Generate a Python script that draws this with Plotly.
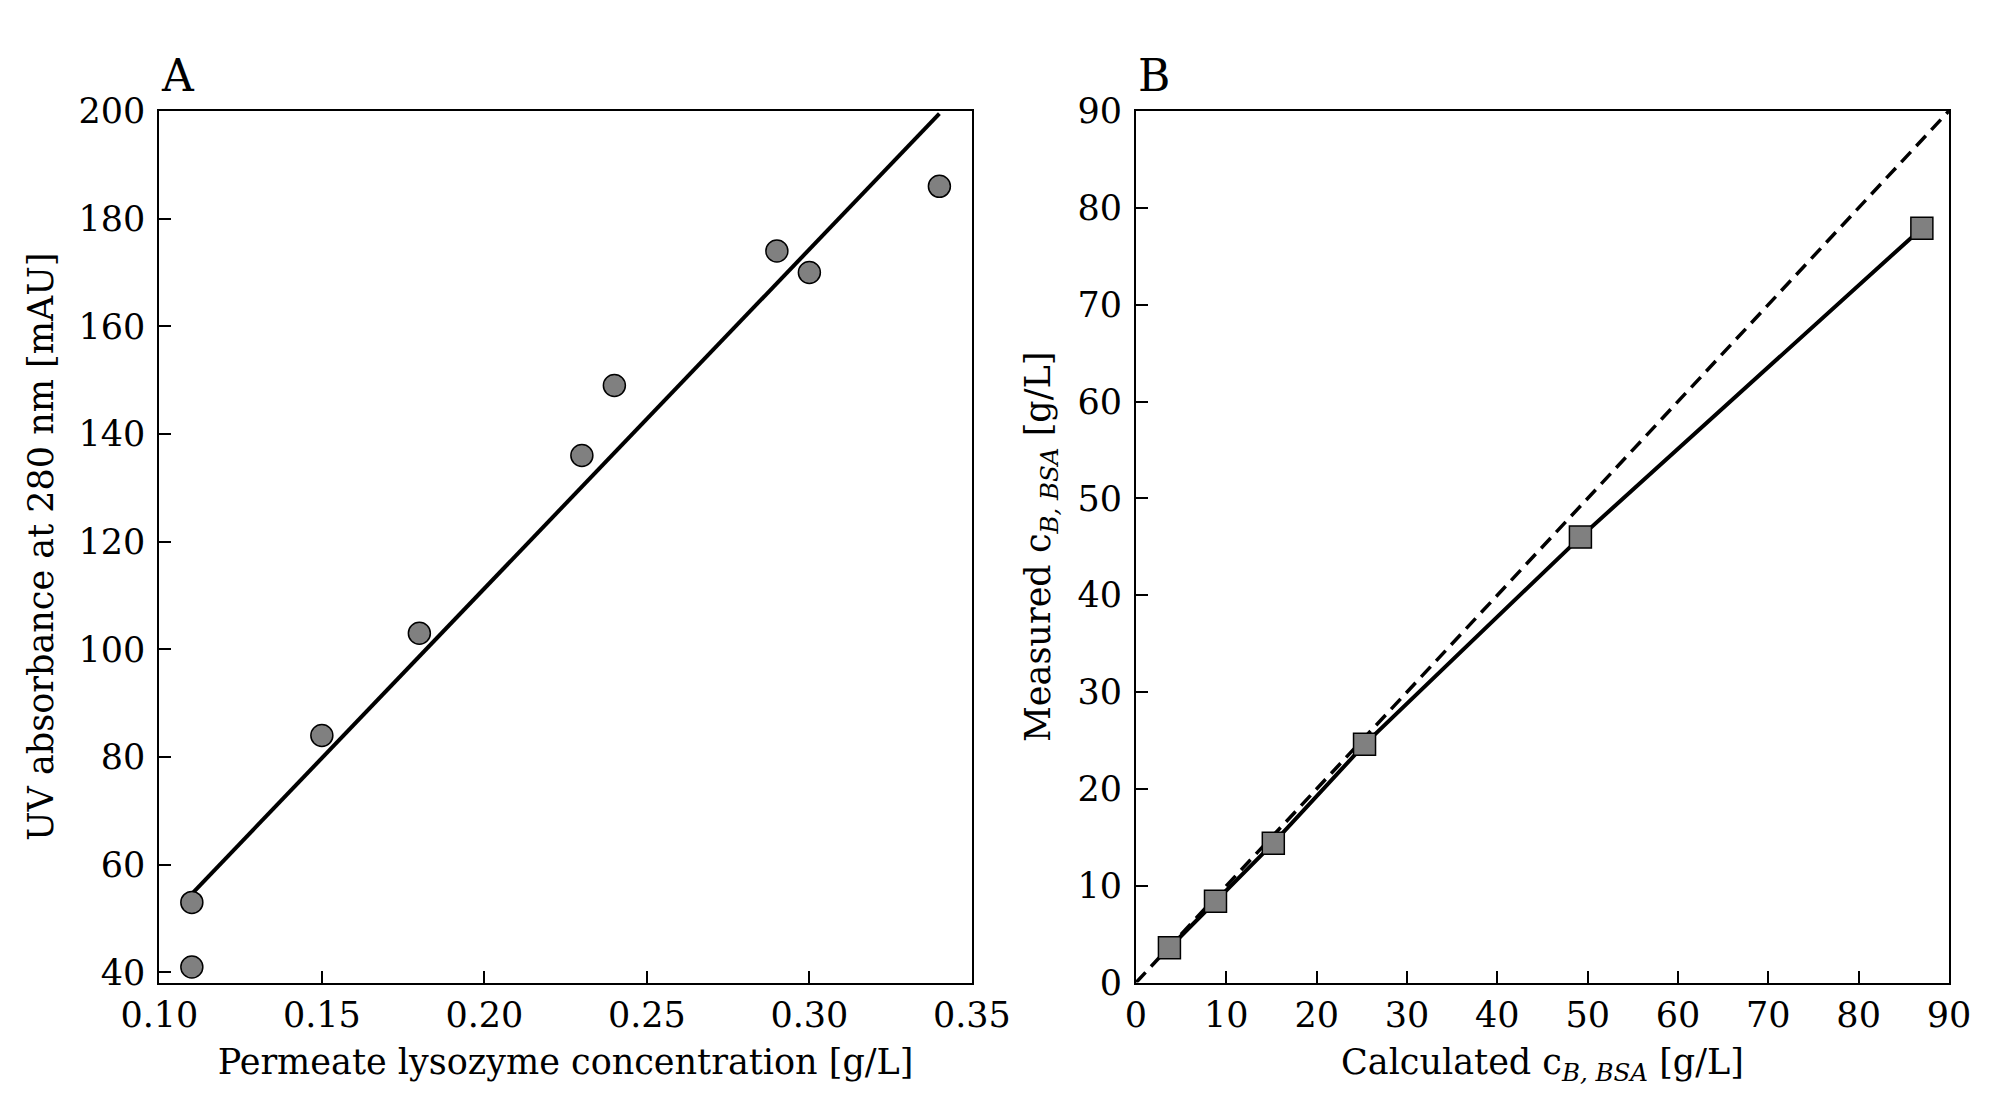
import plotly.graph_objects as go

# Panel A data
a_x = [0.11, 0.11, 0.15, 0.18, 0.23, 0.24, 0.29, 0.30, 0.34]
a_y = [53, 41, 84, 103, 136, 149, 174, 170, 186]
a_fit_x = [0.11, 0.34]
a_fit_y = [54.6, 199.5]

# Panel B data
b_x = [3.7, 8.8, 15.2, 25.3, 49.2, 87.0]
b_y = [3.6, 8.4, 14.4, 24.6, 46.0, 77.9]
b_id_x = [0, 90]
b_id_y = [0, 90]

a_xticks = [0.10, 0.15, 0.20, 0.25, 0.30, 0.35]
a_yticks = [40, 60, 80, 100, 120, 140, 160, 180, 200]
b_ticks = [0, 10, 20, 30, 40, 50, 60, 70, 80, 90]

FONT = "DejaVu Serif"
FS = 35
GRAY = "#808080"

fig = go.Figure()

fig.add_trace(go.Scatter(x=a_fit_x, y=a_fit_y, mode="lines",
                         line=dict(color="black", width=4),
                         xaxis="x", yaxis="y", showlegend=False))
fig.add_trace(go.Scatter(x=a_x, y=a_y, mode="markers",
                         marker=dict(symbol="circle", size=22, color=GRAY,
                                     line=dict(color="black", width=1.5)),
                         xaxis="x", yaxis="y", showlegend=False))

fig.add_trace(go.Scatter(x=b_id_x, y=b_id_y, mode="lines",
                         line=dict(color="black", width=3.5, dash="14px,8px"),
                         xaxis="x2", yaxis="y2", showlegend=False))
fig.add_trace(go.Scatter(x=b_x, y=b_y, mode="lines+markers",
                         line=dict(color="black", width=4),
                         marker=dict(symbol="square", size=22, color=GRAY,
                                     line=dict(color="black", width=1.5)),
                         xaxis="x2", yaxis="y2", showlegend=False))

axis_common = dict(showline=True, linecolor="black", linewidth=2, mirror=True,
                   ticks="inside", ticklen=12, tickwidth=2, tickcolor="black",
                   showgrid=False, zeroline=False, automargin=False,
                   tickfont=dict(family=FONT, size=FS, color="black"),
                   title_font=dict(family=FONT, size=FS, color="black"))

YDOM = [0.1140, 0.9064]
AX = [0.0759, 0.4834]
BX = [0.5657, 0.9734]

fig.update_layout(
    width=1994, height=1100,
    margin=dict(l=0, r=0, t=0, b=0),
    paper_bgcolor="white", plot_bgcolor="white",
    font=dict(family=FONT, size=FS, color="black"),
    xaxis=dict(domain=AX, range=[0.10, 0.35], tickvals=a_xticks,
               tickformat=".2f", anchor="y",
               title=dict(text="Permeate lysozyme concentration [g/L]", standoff=16),
               **axis_common),
    yaxis=dict(domain=YDOM, range=[38.1, 200], tickvals=a_yticks,
               anchor="x", ticklabelstandoff=5,
               title=dict(text="UV absorbance at 280 nm [mAU]", standoff=14),
               **axis_common),
    xaxis2=dict(domain=BX, range=[0, 90], tickvals=b_ticks,
                anchor="y2",
                title=dict(text="Calculated c<sub><i>B, BSA</i></sub> [g/L]", standoff=16),
                **axis_common),
    yaxis2=dict(domain=YDOM, range=[0, 90], tickvals=b_ticks,
                anchor="x2", ticklabelstandoff=5,
                title=dict(text="Measured c<sub><i>B, BSA</i></sub> [g/L]", standoff=16),
                **axis_common),
    annotations=[
        dict(text="A", x=AX[0], y=YDOM[1], xref="paper", yref="paper",
             xanchor="left", yanchor="bottom", yshift=8, showarrow=False,
             font=dict(family=FONT, size=44, color="black")),
        dict(text="B", x=BX[0], y=YDOM[1], xref="paper", yref="paper",
             xanchor="left", yanchor="bottom", yshift=8, showarrow=False,
             font=dict(family=FONT, size=44, color="black")),
    ],
)

fig.write_html("out.html")
